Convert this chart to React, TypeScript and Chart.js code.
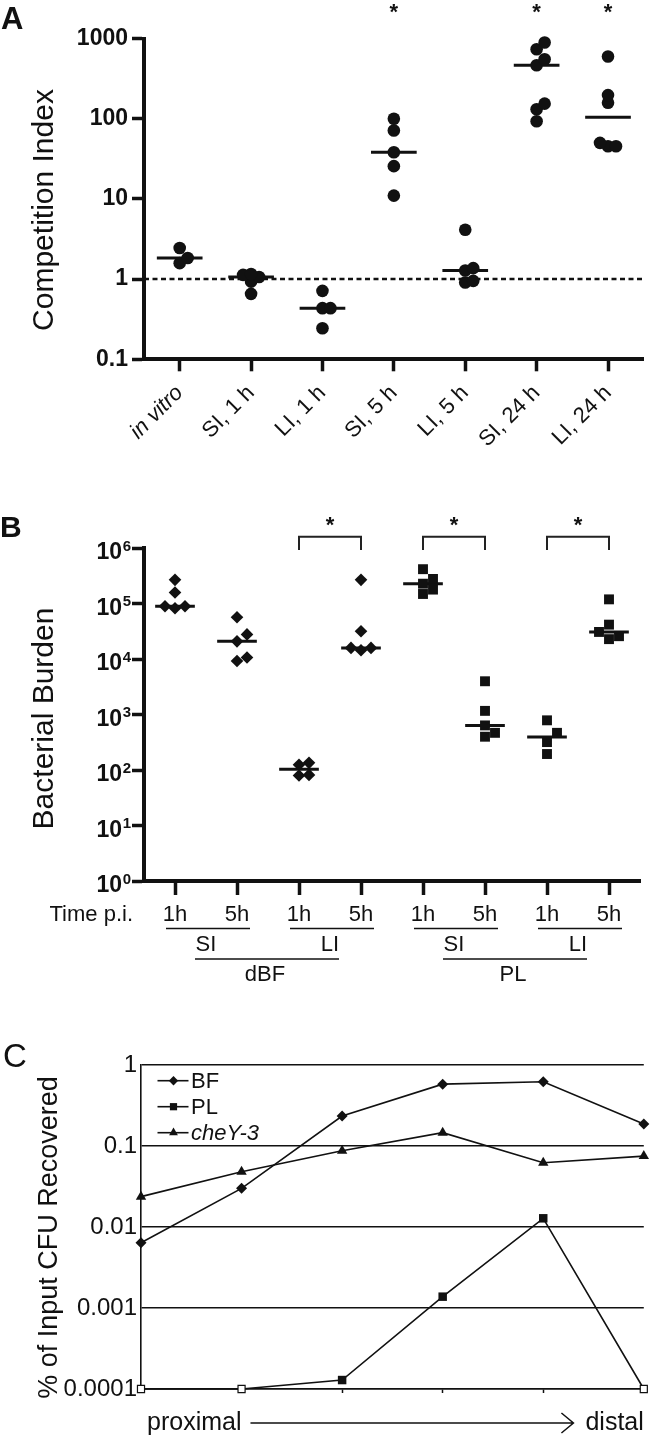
import React, { useEffect, useRef } from 'react';
import { Chart, registerables } from 'chart.js';

Chart.register(...registerables);

const FAMILY = '"Liberation Sans", Arial, Helvetica, sans-serif';
const INK = '#111111';
Chart.defaults.font.family = FAMILY;
Chart.defaults.color = INK;

// ================= Panel A: competition index =================
const groupsA = ['in vitro', 'SI, 1 h', 'LI, 1 h', 'SI, 5 h', 'LI, 5 h', 'SI, 24 h', 'LI, 24 h'];
const ciInVitro = [1.58, 1.83, 2.44];
const ciSI1h = [0.655, 0.93, 1.06, 1.13, 1.16];
const ciLI1h = [0.244, 0.434, 0.434, 0.714];
const ciSI5h = [11, 25.6, 38.2, 71.4, 100];
const ciLI5h = [0.906, 0.95, 1.28, 1.37, 4.13];
const ciSI24h = [93, 131, 154, 464, 551, 735, 891];
const ciLI24h = [45.4, 45.4, 50, 158, 197, 596];
const significantA = [false, false, false, true, false, true, true];
const yTicksA = [0.1, 1, 10, 100, 1000];
const neutralCI = 1;
const valuesA = [ciInVitro, ciSI1h, ciLI1h, ciSI5h, ciLI5h, ciSI24h, ciLI24h];

// ================= Panel B: bacterial burden =================
const timeLabelsB = ['1h', '5h', '1h', '5h', '1h', '5h', '1h', '5h'];
const siteLabelsB = ['SI', 'LI', 'SI', 'LI'];
const strainLabelsB = ['dBF', 'PL'];
const dbfSI1h = [83000, 90000, 90000, 160000, 270000];
const dbfSI5h = [9300, 10700, 21000, 28000, 57000];
const dbfLI1h = [80, 82, 125, 135];
const dbfLI5h = [14500, 16000, 16000, 32000, 270000];
const plSI1h = [150000, 180000, 230000, 280000, 420000];
const plSI5h = [400, 470, 640, 1170, 4000];
const plLI1h = [195, 320, 470, 790];
const plLI5h = [23000, 26000, 31000, 42000, 120000];
const valuesB = [dbfSI1h, dbfSI5h, dbfLI1h, dbfLI5h, plSI1h, plSI5h, plLI1h, plLI5h];
const groupStrainB = [0, 0, 0, 0, 1, 1, 1, 1];
const strainMarkersB = ['rectRot', 'rect'];
const significantPairsB = [[2, 3], [4, 5], [6, 7]];
const yExponentsB = [0, 1, 2, 3, 4, 5, 6];

// ================= Panel C: % input recovered =================
const segmentsC = [0, 1, 2, 3, 4, 5];
const bfC = [0.0064, 0.03, 0.234, 0.58, 0.62, 0.187];
const plC = [0.0001, 0.0001, 0.000129, 0.00138, 0.0128, 0.0001];
const cheYC = [0.0237, 0.048, 0.0875, 0.146, 0.062, 0.075];
const seriesNamesC = ['BF', 'PL', 'cheY-3'];
const seriesMarkersC = ['rectRot', 'rect', 'triangle'];
const yTicksC = [0.0001, 0.001, 0.01, 0.1, 1];
const yTickLabelsC = ['0.0001', '0.001', '0.01', '0.1', '1'];
const detectionLimitC = 0.0001;

// ================= layout =================
const TOP_A = 0, H_A = 462;
const TOP_B = 462, H_B = 538;
const TOP_C = 1000, H_C = 437;

function median(values: number[]): number {
  const s = [...values].sort((a, b) => a - b);
  const n = s.length;
  return n % 2 ? s[(n - 1) / 2] : (s[n / 2 - 1] + s[n / 2]) / 2;
}

function applySwarm(chart: any, nGroups: number, stepPx: number, minDistPx: number) {
  const xs = chart.scales.x;
  const ys = chart.scales.y;
  const order = [0, 1, -1, 2, -2, 3, -3, 4, -4];
  for (let g = 0; g < nGroups; g++) {
    const pts = chart.data.datasets[g].data as { x: number; y: number }[];
    const cx = xs.getPixelForValue(g);
    const placed: { px: number; py: number }[] = [];
    pts.forEach((p) => {
      const py = ys.getPixelForValue(p.y);
      let px = cx;
      for (const k of order) {
        const cand = cx + k * stepPx;
        if (placed.every((q) => Math.hypot(q.px - cand, q.py - py) >= minDistPx)) {
          px = cand;
          break;
        }
      }
      placed.push({ px, py });
      p.x = xs.getValueForPixel(px);
    });
  }
  chart.update('none');
}

function drawMarker(ctx: CanvasRenderingContext2D, style: string, x: number, y: number, r: number) {
  ctx.beginPath();
  if (style === 'rectRot') {
    ctx.moveTo(x, y - r);
    ctx.lineTo(x + r, y);
    ctx.lineTo(x, y + r);
    ctx.lineTo(x - r, y);
  } else if (style === 'rect') {
    const h = r * Math.SQRT1_2;
    ctx.rect(x - h, y - h, 2 * h, 2 * h);
  } else {
    ctx.moveTo(x, y - r);
    ctx.lineTo(x + r * 0.866, y + r * 0.5);
    ctx.lineTo(x - r * 0.866, y + r * 0.5);
  }
  ctx.closePath();
  ctx.fill();
}

const baseOptions = {
  animation: false,
  responsive: false,
  devicePixelRatio: 1,
  events: [],
  plugins: { legend: { display: false }, tooltip: { enabled: false } },
};

// ---------- Panel A ----------
const panelAPlugin = {
  id: 'panelA',
  afterDraw(chart: any) {
    const ctx: CanvasRenderingContext2D = chart.ctx;
    const xs = chart.scales.x;
    const T = (y: number) => y - TOP_A;
    ctx.save();
    ctx.fillStyle = INK;
    ctx.textBaseline = 'alphabetic';
    ctx.textAlign = 'left';
    ctx.font = `bold 31px ${FAMILY}`;
    ctx.fillText('A', 1, T(28.5));
    ctx.font = `bold 22px ${FAMILY}`;
    ctx.textAlign = 'center';
    significantA.forEach((s, i) => {
      if (s) ctx.fillText('*', xs.getPixelForValue(i), T(18.5));
    });
    ctx.translate(53, T(210));
    ctx.rotate(-Math.PI / 2);
    ctx.font = `30px ${FAMILY}`;
    ctx.textAlign = 'center';
    ctx.fillText('Competition Index', 0, 0);
    ctx.restore();
  },
};

function buildA(canvas: HTMLCanvasElement) {
  const scatterSets = valuesA.map((vals, g) => ({
    type: 'scatter',
    data: vals.map((v) => ({ x: g, y: v })),
    pointStyle: 'circle',
    pointRadius: 6.3,
    backgroundColor: INK,
    borderColor: INK,
    borderWidth: 0,
    clip: false,
  }));
  const medianSets = valuesA.map((vals, g) => ({
    type: 'line',
    data: [
      { x: g - 0.32, y: median(vals) },
      { x: g + 0.32, y: median(vals) },
    ],
    borderColor: INK,
    borderWidth: 3,
    pointRadius: 0,
    clip: false,
  }));
  const refLine = {
    type: 'line',
    data: [
      { x: -0.5, y: neutralCI },
      { x: groupsA.length - 0.5, y: neutralCI },
    ],
    borderColor: INK,
    borderWidth: 2.5,
    borderDash: [5, 3.5],
    pointRadius: 0,
  };
  const chart = new Chart(canvas, {
    type: 'scatter',
    data: { datasets: [...scatterSets, ...medianSets, refLine] as any },
    options: {
      ...baseOptions,
      layout: { padding: { top: 38.5 - TOP_A, right: 5, bottom: 0, left: 0 } },
      scales: {
        x: {
          type: 'linear',
          min: -0.5,
          max: groupsA.length - 0.5,
          afterBuildTicks: (s: any) => {
            s.ticks = groupsA.map((_, i) => ({ value: i }));
          },
          afterFit: (s: any) => {
            s.height = H_A - (359.3 - TOP_A);
          },
          grid: { drawOnChartArea: false, drawTicks: true, tickLength: 12, tickWidth: 3.5, tickColor: INK },
          border: { display: true, width: 4, color: INK },
          ticks: {
            autoSkip: false,
            minRotation: 45,
            maxRotation: 45,
            padding: 9,
            color: INK,
            font: (c: any) => ({ family: FAMILY, size: 22, style: c.index === 0 ? 'italic' : 'normal' }),
            callback: (_v: any, i: number) => groupsA[i],
          },
        },
        y: {
          type: 'logarithmic',
          min: yTicksA[0],
          max: yTicksA[yTicksA.length - 1],
          afterBuildTicks: (s: any) => {
            s.ticks = yTicksA.map((v) => ({ value: v }));
          },
          afterFit: (s: any) => {
            s.width = 144;
          },
          grid: { drawOnChartArea: false, drawTicks: true, tickLength: 12, tickWidth: 3.5, tickColor: INK },
          border: { display: true, width: 4, color: INK },
          ticks: {
            autoSkip: false,
            padding: 4,
            color: INK,
            font: { family: FAMILY, size: 23, weight: 'bold' },
            callback: (v: any) => String(v),
          },
        },
      },
    } as any,
    plugins: [panelAPlugin],
  });
  applySwarm(chart, valuesA.length, 8, 7.5);
  return chart;
}

// ---------- Panel B ----------
const panelBPlugin = {
  id: 'panelB',
  afterDraw(chart: any) {
    const ctx: CanvasRenderingContext2D = chart.ctx;
    const xs = chart.scales.x;
    const ys = chart.scales.y;
    const T = (y: number) => y - TOP_B;
    const X = (i: number) => xs.getPixelForValue(i);
    ctx.save();
    ctx.fillStyle = INK;
    ctx.strokeStyle = INK;
    ctx.textBaseline = 'alphabetic';
    ctx.textAlign = 'left';
    ctx.font = `bold 30px ${FAMILY}`;
    ctx.fillText('B', 0, T(537));

    // y tick labels 10^n
    const right = chart.chartArea.left - 13;
    yExponentsB.forEach((e) => {
      const y = ys.getPixelForValue(Math.pow(10, e));
      ctx.font = `bold 15px ${FAMILY}`;
      const sup = String(e);
      const sw = ctx.measureText(sup).width;
      ctx.textAlign = 'left';
      ctx.fillText(sup, right - sw, y + 2.5);
      ctx.font = `bold 23px ${FAMILY}`;
      ctx.textAlign = 'right';
      ctx.fillText('10', right - sw - 0.5, y + 11);
    });

    // significance brackets
    ctx.lineWidth = 2;
    ctx.strokeStyle = '#222';
    significantPairsB.forEach(([a, b]) => {
      const xa = X(a), xb = X(b);
      ctx.beginPath();
      ctx.moveTo(xa, T(550));
      ctx.lineTo(xa, T(536.7));
      ctx.lineTo(xb, T(536.7));
      ctx.lineTo(xb, T(550));
      ctx.stroke();
      ctx.font = `bold 22px ${FAMILY}`;
      ctx.textAlign = 'center';
      ctx.fillText('*', (xa + xb) / 2, T(531.5));
    });

    // y title
    ctx.save();
    ctx.translate(53, T(718.5));
    ctx.rotate(-Math.PI / 2);
    ctx.font = `30px ${FAMILY}`;
    ctx.textAlign = 'center';
    ctx.fillText('Bacterial Burden', 0, 0);
    ctx.restore();

    // hierarchical x labels
    ctx.strokeStyle = INK;
    ctx.lineWidth = 1.6;
    ctx.textBaseline = 'middle';
    ctx.font = `22px ${FAMILY}`;
    ctx.textAlign = 'right';
    ctx.fillText('Time p.i.', 133, T(915));
    ctx.textAlign = 'center';
    timeLabelsB.forEach((t, i) => ctx.fillText(t, X(i), T(915)));
    const siteCenters: number[] = [];
    siteLabelsB.forEach((s, k) => {
      const a = X(2 * k), b = X(2 * k + 1);
      ctx.beginPath();
      ctx.moveTo(a - 9, T(928.5));
      ctx.lineTo(b + 13, T(928.5));
      ctx.stroke();
      const c = (a + b) / 2;
      siteCenters.push(c);
      ctx.fillText(s, c, T(945));
    });
    strainLabelsB.forEach((s, k) => {
      const a = siteCenters[2 * k], b = siteCenters[2 * k + 1];
      ctx.beginPath();
      ctx.moveTo(a - 11, T(959));
      ctx.lineTo(b + 9, T(959));
      ctx.stroke();
      ctx.fillText(s, (a + b) / 2 - 3, T(975));
    });
    ctx.restore();
  },
};

function buildB(canvas: HTMLCanvasElement) {
  const scatterSets = valuesB.map((vals, g) => ({
    type: 'scatter',
    data: vals.map((v) => ({ x: g, y: v })),
    pointStyle: strainMarkersB[groupStrainB[g]],
    pointRadius: groupStrainB[g] === 0 ? 6.3 : 7,
    backgroundColor: INK,
    borderColor: INK,
    borderWidth: 0,
    clip: false,
  }));
  const medianSets = valuesB.map((vals, g) => ({
    type: 'line',
    data: [
      { x: g - 0.32, y: median(vals) },
      { x: g + 0.32, y: median(vals) },
    ],
    borderColor: INK,
    borderWidth: 3,
    pointRadius: 0,
    clip: false,
  }));
  const chart = new Chart(canvas, {
    type: 'scatter',
    data: { datasets: [...scatterSets, ...medianSets] as any },
    options: {
      ...baseOptions,
      layout: { padding: { top: 548.3 - TOP_B, right: 10, bottom: 0, left: 0 } },
      scales: {
        x: {
          type: 'linear',
          min: -0.5,
          max: timeLabelsB.length - 0.5,
          afterBuildTicks: (s: any) => {
            s.ticks = timeLabelsB.map((_, i) => ({ value: i }));
          },
          afterFit: (s: any) => {
            s.height = TOP_B + H_B - 881;
          },
          grid: { drawOnChartArea: false, drawTicks: true, tickLength: 14, tickWidth: 3.5, tickColor: INK },
          border: { display: true, width: 4, color: INK },
          ticks: { display: false },
        },
        y: {
          type: 'logarithmic',
          min: 1,
          max: 1e6,
          afterBuildTicks: (s: any) => {
            s.ticks = yExponentsB.map((e) => ({ value: Math.pow(10, e) }));
          },
          afterFit: (s: any) => {
            s.width = 144;
          },
          grid: { drawOnChartArea: false, drawTicks: true, tickLength: 12, tickWidth: 3.5, tickColor: INK },
          border: { display: true, width: 4, color: INK },
          ticks: { display: false },
        },
      },
    } as any,
    plugins: [panelBPlugin],
  });
  applySwarm(chart, valuesB.length, 10, 10);
  return chart;
}

// ---------- Panel C ----------
const radiiC = [5.5, 6, 6];
const panelCPlugin = {
  id: 'panelC',
  afterDraw(chart: any) {
    const ctx: CanvasRenderingContext2D = chart.ctx;
    const area = chart.chartArea;
    const T = (y: number) => y - TOP_C;
    ctx.save();
    ctx.fillStyle = INK;
    ctx.strokeStyle = INK;
    ctx.textBaseline = 'alphabetic';
    ctx.textAlign = 'left';
    ctx.font = `33px ${FAMILY}`;
    ctx.fillText('C', 3, T(1067));

    ctx.save();
    ctx.translate(57, T(1237.5));
    ctx.rotate(-Math.PI / 2);
    ctx.font = `27px ${FAMILY}`;
    ctx.textAlign = 'center';
    ctx.fillText('% of Input CFU Recovered', 0, 0);
    ctx.restore();

    // legend
    seriesNamesC.forEach((name, i) => {
      const y = T(1080.7 + i * 26);
      ctx.lineWidth = 1.6;
      ctx.beginPath();
      ctx.moveTo(157.5, y);
      ctx.lineTo(188.5, y);
      ctx.stroke();
      drawMarker(ctx, seriesMarkersC[i], 173.5, y, radiiC[i] * 0.85);
      ctx.font = `${i === 2 ? 'italic ' : ''}22px ${FAMILY}`;
      ctx.textBaseline = 'middle';
      ctx.textAlign = 'left';
      ctx.fillText(name, 191, y + 1);
    });

    // proximal -> distal
    const y = T(1423);
    ctx.font = `25px ${FAMILY}`;
    ctx.textBaseline = 'middle';
    const p0 = area.left + 6;
    ctx.textAlign = 'left';
    ctx.fillText('proximal', p0, y);
    const pw = ctx.measureText('proximal').width;
    ctx.textAlign = 'right';
    ctx.fillText('distal', area.right, y);
    const dw = ctx.measureText('distal').width;
    const a0 = p0 + pw + 9;
    const a1 = area.right - dw - 12;
    ctx.lineWidth = 1.5;
    ctx.beginPath();
    ctx.moveTo(a0, y);
    ctx.lineTo(a1, y);
    ctx.moveTo(a1 - 12, y - 10);
    ctx.lineTo(a1, y);
    ctx.lineTo(a1 - 12, y + 10);
    ctx.stroke();
    ctx.restore();
  },
};

function buildC(canvas: HTMLCanvasElement) {
  const series = [bfC, plC, cheYC];
  const datasets = series.map((vals, i) => ({
    type: 'line',
    data: segmentsC.map((x, k) => ({ x, y: vals[k] })),
    borderColor: INK,
    borderWidth: 1.6,
    tension: 0,
    pointStyle: seriesMarkersC[i],
    pointRadius: (c: any) => (c.raw && c.raw.y <= detectionLimitC ? 5 : radiiC[i]),
    pointBackgroundColor: (c: any) => (c.raw && c.raw.y <= detectionLimitC ? '#ffffff' : INK),
    pointBorderColor: INK,
    pointBorderWidth: (c: any) => (c.raw && c.raw.y <= detectionLimitC ? 1.2 : 0),
    clip: false,
  }));
  return new Chart(canvas, {
    type: 'scatter',
    data: { datasets: datasets as any },
    options: {
      ...baseOptions,
      layout: { padding: { top: 1065 - TOP_C, right: 5.3, bottom: 0, left: 0 } },
      scales: {
        x: {
          type: 'linear',
          min: segmentsC[0],
          max: segmentsC[segmentsC.length - 1],
          afterBuildTicks: (s: any) => {
            s.ticks = segmentsC.map((v) => ({ value: v }));
          },
          afterFit: (s: any) => {
            s.height = TOP_C + H_C - 1389;
          },
          grid: { drawOnChartArea: false, drawTicks: true, tickLength: 4, tickWidth: 1.5, tickColor: INK },
          border: { display: true, width: 1.6, color: INK },
          ticks: { display: false },
        },
        y: {
          type: 'logarithmic',
          min: yTicksC[0],
          max: yTicksC[yTicksC.length - 1],
          afterBuildTicks: (s: any) => {
            s.ticks = yTicksC.map((v) => ({ value: v }));
          },
          afterFit: (s: any) => {
            s.width = 141;
          },
          grid: { drawOnChartArea: true, drawTicks: false, lineWidth: 1.6, color: INK },
          border: { display: true, width: 1.6, color: INK },
          ticks: {
            autoSkip: false,
            padding: 4,
            color: INK,
            font: { family: FAMILY, size: 24 },
            callback: (v: any) => {
              const i = yTicksC.findIndex((t) => Math.abs(t - v) / t < 1e-6);
              return i >= 0 ? yTickLabelsC[i] : '';
            },
          },
        },
      },
    } as any,
    plugins: [panelCPlugin],
  });
}

function Panel({ top, height, build }: { top: number; height: number; build: (c: HTMLCanvasElement) => any }) {
  const ref = useRef<HTMLCanvasElement>(null);
  useEffect(() => {
    const chart = build(ref.current as HTMLCanvasElement);
    return () => chart.destroy();
  }, []);
  return (
    <canvas
      ref={ref}
      width={650}
      height={height}
      style={{ position: 'absolute', left: 0, top, width: 650, height, display: 'block' }}
    />
  );
}

export default function App() {
  return (
    <div style={{ position: 'absolute', left: 0, top: 0, width: 650, height: 1437, background: '#ffffff' }}>
      <Panel top={TOP_A} height={H_A} build={buildA} />
      <Panel top={TOP_B} height={H_B} build={buildB} />
      <Panel top={TOP_C} height={H_C} build={buildC} />
    </div>
  );
}
